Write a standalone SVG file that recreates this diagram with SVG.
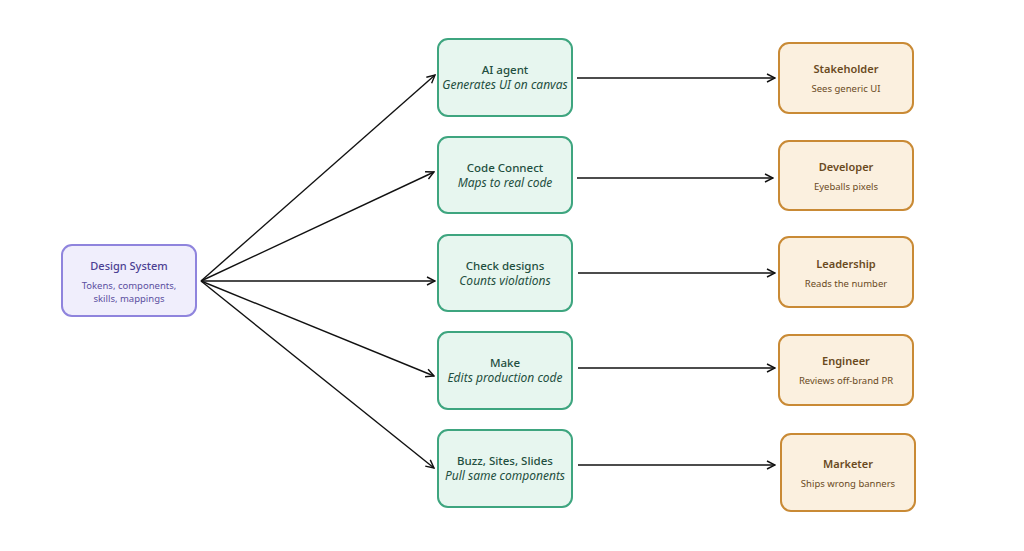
<svg xmlns="http://www.w3.org/2000/svg" width="1024" height="551" viewBox="0 0 1024 551">
<defs>
<marker id="arr" viewBox="0 0 10 10" refX="9" refY="5" markerWidth="10" markerHeight="10" markerUnits="userSpaceOnUse" orient="auto">
<path d="M1,1 L9,5 L1,9" fill="none" stroke="#111" stroke-width="1.4"/>
</marker>
<style>
.t{font-family:"Noto Sans","Open Sans",sans-serif;text-anchor:middle}
.ds rect{fill:#f0eefc;stroke:#8f84dd;stroke-width:2}
.ds .a{fill:#4b3f93;font-size:11px;font-weight:500}
.ds .b{fill:#5b4fa0;font-size:9.5px}
.g rect{fill:#e7f6ef;stroke:#3ea57f;stroke-width:2}
.g .a{fill:#1f4f40;font-size:11.5px;font-weight:500}
.g .b{fill:#1f4f40;font-size:12px;font-style:italic}
.o rect{fill:#fbf0df;stroke:#c98a35;stroke-width:2}
.o .a{fill:#6a4a1e;font-size:11px;font-weight:600}
.o .b{fill:#6a4a1e;font-size:9.5px}
.c line{stroke:#111;stroke-width:1.4;marker-end:url(#arr)}
</style>
</defs>
<rect width="1024" height="551" fill="#fff"/>
<g class="c" id="connectors">
<line x1="201" y1="281" x2="435" y2="75"/>
<line x1="201" y1="281" x2="434" y2="172"/>
<line x1="201" y1="281" x2="435" y2="281"/>
<line x1="201" y1="281" x2="434" y2="376"/>
<line x1="201" y1="281" x2="434" y2="468"/>
<line x1="577" y1="78" x2="775" y2="78"/>
<line x1="577" y1="178" x2="773" y2="178"/>
<line x1="578" y1="273" x2="775" y2="273"/>
<line x1="578" y1="368" x2="775" y2="368"/>
<line x1="578" y1="465" x2="775" y2="465"/>
</g>
<g class="ds t" id="design-system">
<rect x="62" y="245" width="134" height="71" rx="10"/>
<text class="a" x="129" y="270">Design System</text>
<text class="b" x="129" y="289">Tokens, components,</text>
<text class="b" x="129" y="302">skills, mappings</text>
</g>
<g class="g t" id="ai-agent">
<rect x="438" y="39" width="134" height="77" rx="10"/>
<text class="a" x="505" y="74">AI agent</text>
<text class="b" x="505" y="89">Generates UI on canvas</text>
</g>
<g class="g t" id="code-connect">
<rect x="438" y="137" width="134" height="76" rx="10"/>
<text class="a" x="505" y="172">Code Connect</text>
<text class="b" x="505" y="187">Maps to real code</text>
</g>
<g class="g t" id="check-designs">
<rect x="438" y="235" width="134" height="76" rx="10"/>
<text class="a" x="505" y="270">Check designs</text>
<text class="b" x="505" y="285">Counts violations</text>
</g>
<g class="g t" id="make">
<rect x="438" y="332" width="134" height="77" rx="10"/>
<text class="a" x="505" y="367">Make</text>
<text class="b" x="505" y="382">Edits production code</text>
</g>
<g class="g t" id="buzz">
<rect x="438" y="430" width="134" height="77" rx="10"/>
<text class="a" x="505" y="465">Buzz, Sites, Slides</text>
<text class="b" x="505" y="480">Pull same components</text>
</g>
<g class="o t" id="stakeholder">
<rect x="779" y="43" width="134" height="70" rx="10"/>
<text class="a" x="846" y="73">Stakeholder</text>
<text class="b" x="846" y="92">Sees generic UI</text>
</g>
<g class="o t" id="developer">
<rect x="779" y="141" width="134" height="69" rx="10"/>
<text class="a" x="846" y="171">Developer</text>
<text class="b" x="846" y="190">Eyeballs pixels</text>
</g>
<g class="o t" id="leadership">
<rect x="779" y="237" width="134" height="70" rx="10"/>
<text class="a" x="846" y="268">Leadership</text>
<text class="b" x="846" y="287">Reads the number</text>
</g>
<g class="o t" id="engineer">
<rect x="779" y="335" width="134" height="70" rx="10"/>
<text class="a" x="846" y="365">Engineer</text>
<text class="b" x="846" y="384">Reviews off-brand PR</text>
</g>
<g class="o t" id="marketer">
<rect x="781" y="434" width="134" height="77" rx="10"/>
<text class="a" x="848" y="468">Marketer</text>
<text class="b" x="848" y="487">Ships wrong banners</text>
</g>
</svg>
